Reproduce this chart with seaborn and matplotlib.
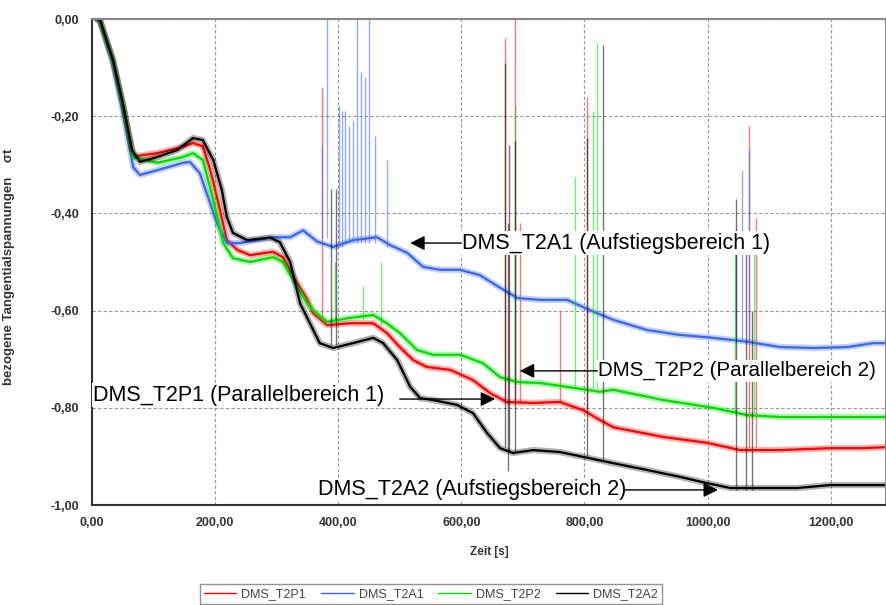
import numpy as np
import pandas as pd
import seaborn as sns
import matplotlib.pyplot as plt

t_p1 = [8, 13, 34, 50, 67, 106, 148, 164, 180, 192, 203, 219, 236, 257, 294, 310, 327, 349, 359, 382,
        419, 457, 479, 500, 522, 544, 582, 619, 647, 674, 717, 760, 798, 825, 847, 928, 999, 1053, 1118,
        1199, 1253, 1290]
v_p1 = [0, -0.005, -0.085, -0.175, -0.283, -0.276, -0.263, -0.255, -0.262, -0.31, -0.366, -0.455, -0.475,
        -0.486, -0.479, -0.49, -0.53, -0.575, -0.605, -0.630, -0.626, -0.626, -0.646, -0.675, -0.702, -0.716,
        -0.722, -0.743, -0.770, -0.788, -0.790, -0.788, -0.805, -0.825, -0.840, -0.860, -0.872, -0.887,
        -0.887, -0.883, -0.883, -0.881]

t_a1 = [8, 13, 34, 50, 67, 78, 106, 148, 159, 175, 192, 203, 219, 240, 294, 322, 343, 366, 392, 424, 463,
        484, 512, 538, 565, 598, 630, 663, 691, 728, 772, 809, 847, 902, 955, 1009, 1064, 1118, 1172, 1227,
        1269, 1290]
v_a1 = [0, -0.005, -0.09, -0.19, -0.305, -0.321, -0.311, -0.296, -0.294, -0.317, -0.379, -0.42, -0.461,
        -0.461, -0.449, -0.449, -0.435, -0.458, -0.469, -0.455, -0.449, -0.465, -0.481, -0.510, -0.516,
        -0.516, -0.527, -0.553, -0.574, -0.578, -0.578, -0.599, -0.619, -0.640, -0.650, -0.656, -0.664,
        -0.675, -0.677, -0.675, -0.667, -0.667]

t_p2 = [8, 13, 34, 50, 67, 106, 148, 164, 180, 197, 213, 229, 257, 294, 310, 327, 349, 359, 382, 419, 457,
        479, 500, 528, 554, 598, 635, 663, 691, 728, 772, 825, 847, 928, 1009, 1064, 1118, 1199, 1290]
v_p2 = [0, -0.005, -0.085, -0.175, -0.284, -0.296, -0.284, -0.276, -0.29, -0.372, -0.461, -0.492, -0.5,
        -0.49, -0.5, -0.537, -0.584, -0.599, -0.623, -0.615, -0.609, -0.626, -0.646, -0.681, -0.691, -0.691,
        -0.708, -0.737, -0.747, -0.749, -0.757, -0.767, -0.763, -0.784, -0.800, -0.815, -0.819, -0.819,
        -0.819]

t_a2 = [8, 13, 34, 50, 65, 78, 106, 138, 164, 180, 197, 211, 219, 229, 252, 289, 305, 322, 338, 354, 370,
        392, 424, 457, 473, 496, 517, 533, 554, 593, 619, 642, 663, 684, 717, 760, 798, 847, 902, 955, 999,
        1037, 1090, 1146, 1199, 1253, 1290]
v_a2 = [0, -0.002, -0.084, -0.173, -0.27, -0.294, -0.284, -0.27, -0.245, -0.249, -0.29, -0.352, -0.407,
        -0.44, -0.455, -0.45, -0.459, -0.50, -0.585, -0.626, -0.667, -0.677, -0.667, -0.656, -0.667, -0.702,
        -0.757, -0.780, -0.784, -0.794, -0.811, -0.852, -0.883, -0.893, -0.887, -0.891, -0.901, -0.914,
        -0.928, -0.942, -0.955, -0.965, -0.965, -0.965, -0.959, -0.959, -0.959]

# Störspitzen: Zeit, unteres Ende, oberes Ende
spk_p1_t = [374, 671, 687, 695, 760, 804, 1068, 1079]
spk_p1_lo = [-0.62, -0.79, -0.79, -0.79, -0.79, -0.80, -0.88, -0.88]
spk_p1_hi = [-0.14, -0.04, 0.0, -0.42, -0.60, -0.16, -0.22, -0.41]

spk_a1_t = [374, 382, 401, 406, 411, 418, 424, 431, 437, 444, 450, 460, 479, 1046, 1056, 1068]
spk_a1_lo = [-0.45, -0.45, -0.47, -0.47, -0.46, -0.46, -0.46, -0.46, -0.46, -0.46, -0.46, -0.46, -0.47,
             -0.66, -0.66, -0.66]
spk_a1_hi = [-0.26, 0.0, -0.18, -0.19, -0.19, -0.22, -0.21, 0.0, -0.11, -0.12, 0.0, -0.24, -0.29, -0.43,
             -0.31, -0.27]

spk_p2_t = [395, 440, 470, 687, 785, 814, 821, 1045, 1075]
spk_p2_lo = [-0.62, -0.62, -0.63, -0.75, -0.76, -0.76, -0.76, -0.81, -0.81]
spk_p2_hi = [-0.50, -0.55, -0.50, -0.18, -0.325, -0.19, -0.05, -0.48, -0.45]

spk_a2_t = [388, 397, 671, 676, 678, 687, 804, 830, 1046, 1062, 1072]
spk_a2_lo = [-0.67, -0.67, -0.88, -0.93, -0.89, -0.89, -0.90, -0.91, -0.97, -0.97, -0.97]
spk_a2_hi = [-0.35, -0.35, -0.09, -0.42, -0.26, -0.25, -0.245, -0.053, -0.37, -0.45, -0.60]

namen = ['DMS_T2P1', 'DMS_T2A1', 'DMS_T2P2', 'DMS_T2A2']
farben = ['#ff0000', '#3a66f0', '#00dd00', '#000000']

sns.set_style("white")
plt.rcParams['font.family'] = ['Liberation Sans', 'DejaVu Sans']

fig = plt.figure(figsize=(8.87, 6.05), dpi=100)
ax = fig.add_axes([92 / 887, 1 - 505 / 605, 794 / 887, 486 / 605])

reihen = [(t_p1, v_p1), (t_a1, v_a1), (t_p2, v_p2), (t_a2, v_a2)]
spitzen = [(spk_p1_t, spk_p1_lo, spk_p1_hi), (spk_a1_t, spk_a1_lo, spk_a1_hi),
           (spk_p2_t, spk_p2_lo, spk_p2_hi), (spk_a2_t, spk_a2_lo, spk_a2_hi)]

for (t, v), (st, slo, shi), name, col in zip(reihen, spitzen, namen, farben):
    df = pd.DataFrame({'zeit': t, 'wert': v})
    # breites, blasses Band fuer das Messrauschen
    sns.lineplot(data=df, x='zeit', y='wert', color=col, lw=4.5, alpha=0.3, ax=ax,
                 estimator=None, sort=False, label='_nolegend_')
    ax.vlines(st, slo, shi, colors=col, lw=1, alpha=0.55)
    sns.lineplot(data=df, x='zeit', y='wert', color=col, lw=1.6, ax=ax,
                 estimator=None, sort=False, label=name)

ax.set_xlim(0, 1290)
ax.set_ylim(-1.0, 0.0)
xt = np.arange(0, 1201, 200)
yt = np.round(np.arange(-1.0, 0.01, 0.2), 2)
ax.set_xticks(xt)
ax.set_xticklabels([f"{x:.2f}".replace('.', ',') for x in xt])
ax.set_yticks(yt)
ax.set_yticklabels([f"{abs(y) if abs(y) < 1e-9 else y:.2f}".replace('.', ',') for y in yt])
ax.tick_params(axis='both', labelsize=9, colors='#333333', length=3, direction='out')
ax.tick_params(axis='x', pad=6)
ax.tick_params(axis='y', pad=6)
for lab in ax.get_xticklabels() + ax.get_yticklabels():
    lab.set_fontweight('bold')

ax.grid(True, color='#999999', linestyle=(0, (3, 2)), lw=0.8)
for s in ['left', 'bottom']:
    ax.spines[s].set_color('#333333')
    ax.spines[s].set_linewidth(1.5)
for s in ['top', 'right']:
    ax.spines[s].set_color('#888888')
    ax.spines[s].set_linewidth(1.5)

ax.set_xlabel('Zeit [s]', fontsize=8.5, fontweight='bold', color='#333333')
ax.xaxis.set_label_coords(0.5, -0.085)
ax.set_ylabel('bezogene Tangentialspannungen    σt', fontsize=9.5, fontweight='bold', color='#333333')
ax.yaxis.set_label_coords(-0.097, 0.49)

# Beschriftungen mit Pfeilen
pfeil = dict(arrowstyle='-|>', color='black', lw=1, mutation_scale=22, shrinkA=0, shrinkB=0)
box = dict(facecolor='white', edgecolor='none', pad=1)
stil = dict(fontsize=15.5, va='center', ha='left', color='black', bbox=box, zorder=10)
ax.text(601, -0.461, 'DMS_T2A1 (Aufstiegsbereich 1)', **stil)
ax.annotate('', xy=(517, -0.461), xytext=(600, -0.461), arrowprops=pfeil, zorder=10)
ax.text(822, -0.724, 'DMS_T2P2 (Parallelbereich 2)', **{**stil, 'fontsize': 14.8})
ax.annotate('', xy=(695, -0.724), xytext=(821, -0.724), arrowprops=pfeil, zorder=10)
ax.text(2, -0.774, 'DMS_T2P1 (Parallelbereich 1)', **stil)
ax.annotate('', xy=(655, -0.782), xytext=(500, -0.782), arrowprops=pfeil, zorder=10)
ax.text(367, -0.969, 'DMS_T2A2 (Aufstiegsbereich 2)', **stil)
ax.annotate('', xy=(1017, -0.969), xytext=(866, -0.969), arrowprops=pfeil, zorder=10)

handles, labels = ax.get_legend_handles_labels()
ax.get_legend().remove()
leg = fig.legend(handles, labels, loc='center', bbox_to_anchor=(431 / 887, 1 - 594 / 605), ncol=4,
                 fontsize=9, frameon=True, fancybox=False, handlelength=2.6, handletextpad=0.4,
                 columnspacing=1.2, borderpad=0.3, borderaxespad=0)
leg.get_frame().set_edgecolor('#777777')
leg.get_frame().set_linewidth(1)
for h in leg.legend_handles:
    h.set_linewidth(1)
for txt in leg.get_texts():
    txt.set_color('#444444')

fig.savefig('out.png', dpi=100)
